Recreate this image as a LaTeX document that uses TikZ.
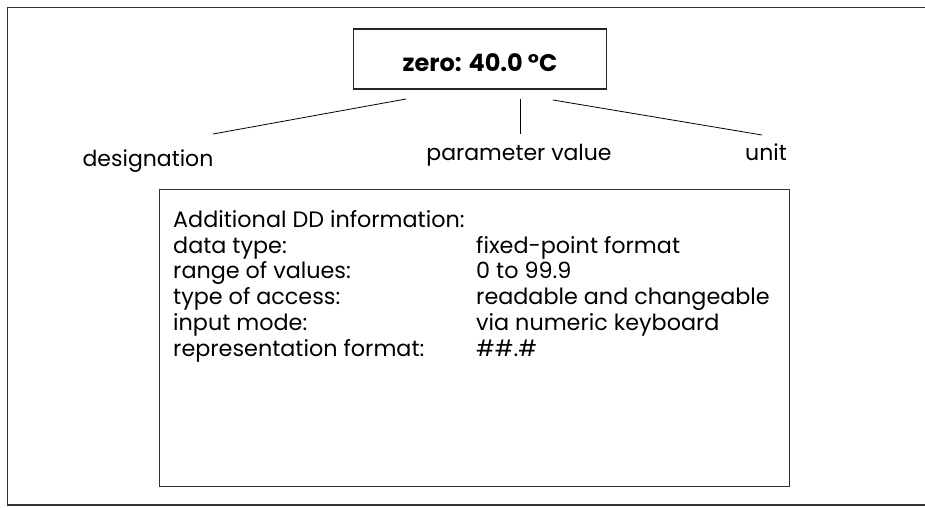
\documentclass[tikz,border=0pt]{standalone}
\usepackage{fontspec}
\setmainfont{Poppins}
\usetikzlibrary{positioning,calc}

\begin{document}
\begin{tikzpicture}[x=1pt,y=-1pt,
    frame/.style={draw=black!80,line width=1.6pt},
    valuebox/.style={draw=black!85,line width=1.3pt,minimum width=253pt,minimum height=60pt},
    infobox/.style={draw=black!80,line width=1pt,minimum width=630pt,minimum height=297pt,anchor=north west},
    lbl/.style={font=\fontsize{22}{25.7}\selectfont,inner sep=0pt},
    leader/.style={draw=black,line width=0.8pt}]

  \useasboundingbox (0,0) rectangle (925,507);
  \begin{scope}
    \clip (0,0) rectangle (925,507);
    \draw[frame] (7.5,7.5) rectangle (940,505);
  \end{scope}

  % display of the parameter
  \node[valuebox,text height=24pt,text depth=0pt,
    font=\bfseries\fontsize{24}{28}\selectfont] (zero) at (480,59) {zero: 40.0 °C};

  % labels below
  \node[lbl,anchor=base] (desig) at (148,166) {designation};
  \node[lbl,anchor=base] (param) at (519,160) {parameter value};
  \node[lbl,anchor=base] (unit) at (766,160) {unit};

  \coordinate (d0) at (406,99);
  \coordinate (d1) at (213,134);
  \coordinate (p0) at (520.5,99);
  \coordinate (p1) at (520.5,134);
  \coordinate (u0) at (553,100);
  \coordinate (u1) at (762,135);
  \draw[leader] (d0) -- (d1);
  \draw[leader] (p0) -- (p1);
  \draw[leader] (u0) -- (u1);

  % additional information
  \node[infobox] (info) at (158.5,189) {};
  \node[lbl,font=\fontsize{22.3}{25.8}\selectfont,anchor=base west] (infotext) at (173,227.3) {%
    \begin{tabular}[t]{@{}p{303pt}@{}l@{}}
      \multicolumn{2}{@{}l@{}}{Additional DD information:}\\
      data type: & fixed-point format\\
      range of values: & 0 to 99.9\\
      type of access: & readable and changeable\\
      input mode: & via numeric keyboard\\
      representation format: & \#\#.\#
    \end{tabular}};
\end{tikzpicture}
\end{document}
